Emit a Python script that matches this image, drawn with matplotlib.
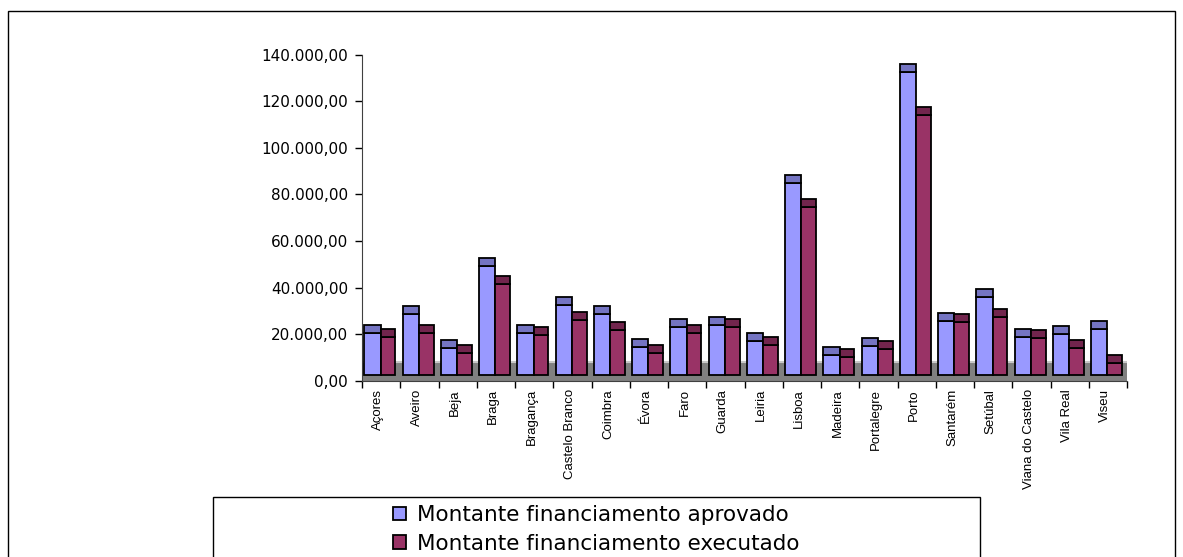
import numpy as np
import matplotlib.pyplot as plt
from matplotlib.patches import Rectangle

# Distritos / regiões
regioes = ["Açores", "Aveiro", "Beja", "Braga", "Bragança", "Castelo Branco",
           "Coimbra", "Évora", "Faro", "Guarda", "Leiria", "Lisboa", "Madeira",
           "Portalegre", "Porto", "Santarém", "Setúbal", "Viana do Castelo",
           "Vila Real", "Viseu"]

aprovado = np.array([23900, 32200, 17300, 52500, 23900, 35800, 32100, 17800,
                     26400, 27500, 20300, 88400, 14600, 18200, 135900, 29200,
                     39400, 22300, 23500, 25500])
executado = np.array([22300, 23800, 15300, 44900, 22900, 29500, 25100, 15200,
                      23900, 26300, 18600, 78100, 13600, 17200, 117600, 28500,
                      30600, 21800, 17300, 11200])

yticks = np.arange(0, 140001, 20000)
ylabels = ["0,00", "20.000,00", "40.000,00", "60.000,00", "80.000,00",
           "100.000,00", "120.000,00", "140.000,00"]

W, H = 1183, 557
fig = plt.figure(figsize=(W / 100, H / 100), dpi=100)
ax = fig.add_axes([362 / W, 1 - 380.7 / H, (1127 - 362) / W, (380.7 - 54.7) / H])

n = len(regioes)
idx = np.arange(n)

# "3D" floor
ax.add_patch(Rectangle((0, 0), n, 8100, facecolor="#808080", edgecolor="none", zorder=1))
ax.axhline(8100, color="#c8c8c8", lw=1.5, zorder=1)

base = 2400   # bars start a bit above the floor front edge
cap = 3400    # depth of the top face

series = [
    (aprovado, 0.06, 0.43, "#9999ff", "#7474c2", "Montante financiamento aprovado"),
    (executado, 0.49, 0.38, "#993366", "#72254d", "Montante financiamento executado"),
]
handles = []
for vals, off, w, face, top, lab in series:
    h = ax.bar(idx + off, vals - cap - base, bottom=base, width=w, align="edge",
               color=face, edgecolor="black", lw=1.3, zorder=3, label=lab)
    ax.bar(idx + off, cap, bottom=vals - cap, width=w, align="edge",
           color=top, edgecolor="black", lw=1.3, zorder=3)
    handles.append(h)

ax.set_xlim(0, n)
ax.set_ylim(0, 140000)
ax.set_yticks(yticks)
ax.set_yticklabels(ylabels, fontsize=11, family="DejaVu Sans")
ax.tick_params(axis="y", direction="out", length=5, width=1, pad=5)

ax.set_xticks(np.arange(n + 1))
ax.set_xticklabels([])
ax.set_xticks(idx + 0.43, minor=True)
ax.set_xticklabels(regioes, minor=True, rotation=90, va="top", ha="center",
                   fontsize=9.5, family=["Liberation Sans", "DejaVu Sans"])
ax.tick_params(axis="x", which="major", direction="out", length=5, width=1)
ax.tick_params(axis="x", which="minor", length=0, pad=6)

for s in ["top", "right"]:
    ax.spines[s].set_visible(False)
ax.spines["left"].set_color("#404040")
ax.spines["bottom"].set_color("#404040")
ax.set_facecolor("none")

# outer frame and legend box
fig.add_artist(Rectangle((8 / W, -0.05), (1175 - 8) / W, 1.05 - 11 / H,
                         transform=fig.transFigure, fill=False, edgecolor="black", lw=1))
fig.add_artist(Rectangle((213 / W, -0.05), (980 - 213) / W, 0.05 + 1 - 497 / H,
                         transform=fig.transFigure, fill=False, edgecolor="black", lw=1))

fig.legend(handles=handles, loc="upper center", bbox_to_anchor=(596 / W, 1 - 490 / H),
           frameon=False, fontsize=15.5, handlelength=0.6, handleheight=0.6,
           handletextpad=0.5, labelspacing=0.4, borderpad=0.2)

fig.savefig("out.png", dpi=100)
